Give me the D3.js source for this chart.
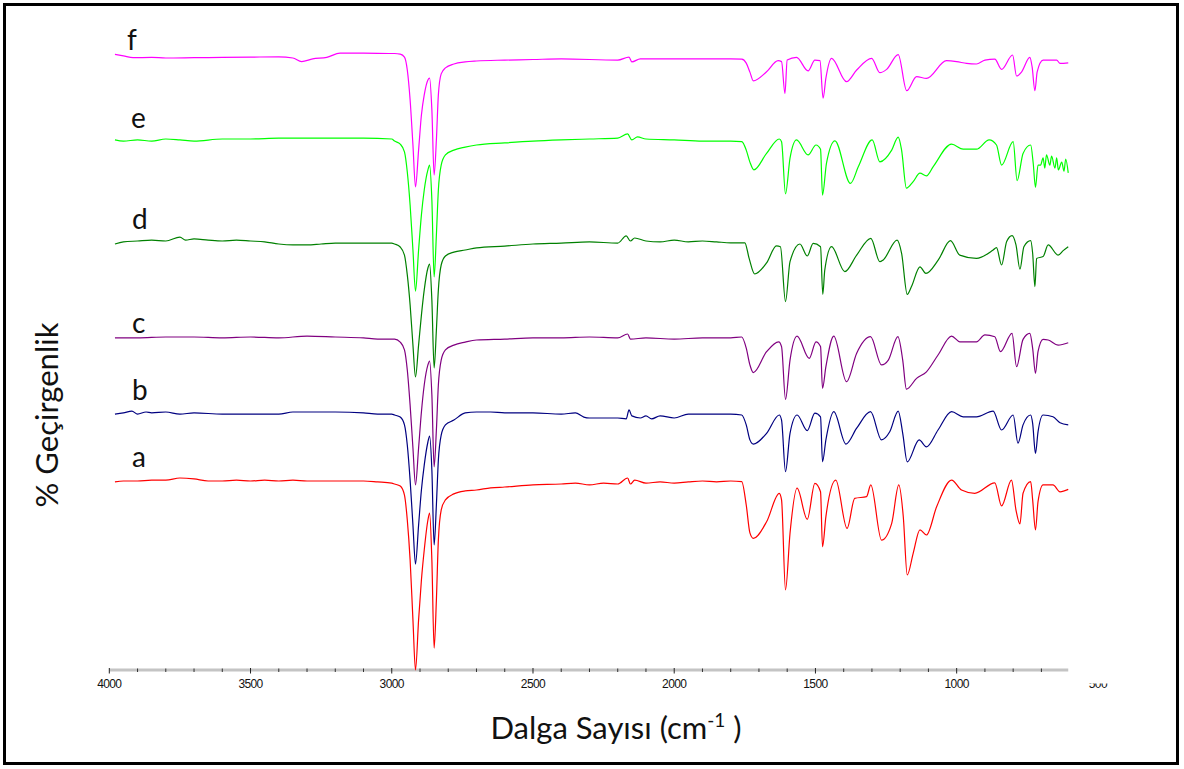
<!DOCTYPE html>
<html><head><meta charset="utf-8">
<script src="https://cdn.jsdelivr.net/npm/d3@7"></script>
<style>body{margin:0;background:#fff}</style>
</head><body><svg id="chart" width="1184" height="769"></svg>
<script>
// ---------- DATA ----------
const seriesLabels = ["a","b","c","d","e","f"];
const seriesOffsets = [0, 23, 48, 80, 114, 142];   // vertical stacking offset
const seriesColors = ["#ff0000","#000080","#800080","#008000","#00ff00","#ff00ff"];
const majorTicks = [4000,3500,3000,2500,2000,1500,1000,500];
const minorTicks = [3900,3800,3700,3600,3400,3300,3200,3100,2900,2800,2700,2600,2400,2300,2200,2100,1900,1800,1700,1600,1400,1300,1200,1100,900,800,700];
const axisEnd = 605;
const xTitle = "Dalga Sayısı (cm";
const yTitle = "% Geçirgenlik";

// [wavenumber, transmittance]
const specA = [[3980,62.7],[3950,63],[3900,63],[3850,63.3],[3800,63.3],[3750,64],[3700,63.7],[3650,63],[3600,63],[3550,63.3],[3500,63],[3450,63.3],[3400,63],[3350,63.3],[3300,63],[3250,63],[3200,63],[3150,63],[3100,63],[3050,62.7],[3000,62.3],
[2990,62],[2970,61.3],[2955,58.3],[2945,50],[2935,36.7],[2925,16.7],[2916,0],[2905,16.7],[2895,30],[2885,40],[2872,50],[2866,52.3],[2858,36.7],[2850,7.3],[2842,23.3],[2835,43.3],[2825,53.3],[2810,56.7],
[2780,58.7],[2740,59.7],[2700,60],[2650,60.7],[2600,61],[2500,61.7],[2400,62],[2350,62.3],[2300,61.7],[2250,62.3],[2200,62],[2165,64],[2155,62],[2140,63.3],[2100,62.3],[2050,62.7],[2000,62.3],[1950,62.7],[1900,63],[1850,62.7],[1800,63],[1761,62.8],
[1745,55],[1732,45.7],[1720,43.9],[1673,49.4],[1628,58.9],[1620,56.7],[1606,26.7],[1590,45.6],[1565,60.6],[1529,50.2],[1502,62.2],[1482,59.4],[1475,41.1],[1463,51.1],[1428,63.3],[1388,47.2],[1361,57.2],[1319,57.8],[1304,61.7],[1266,43.3],[1230,48.9],[1205,61.7],[1189,51.1],[1175,31.7],[1154,38.9],[1130,46.7],[1107,45],[1071,54.4],[1018,63.3],[983,60],[936,58.9],[865,62.4],[841,54.7],[806,63.3],[790,53.3],[776,48.7],[765,58.9],[738,62.8],[731,56.7],[721,46.7],[712,56.1],[694,61.7],[659,61.7],[634,59.4],[605,60.2]];

const specB = [[3980,62.3],[3950,62.7],[3920,63.3],[3900,62.3],[3870,63],[3850,62.7],[3800,63],[3750,62.3],[3700,62.7],[3600,62.3],[3500,62.3],[3400,62.3],[3350,63],[3300,63],[3200,63],[3100,62.7],[3050,62.3],[3000,62.3],
[2990,62],[2970,61.3],[2955,58.7],[2945,52],[2935,40.3],[2925,25.3],[2916,12.3],[2905,25.3],[2895,37],[2885,45.3],[2872,53],[2866,55],[2858,43.7],[2850,18.7],[2842,32],[2835,47],[2825,55.3],[2810,58.7],
[2780,60.3],[2740,62.7],[2700,63],[2650,63],[2600,62.7],[2500,62.7],[2400,62.3],[2350,62.7],[2320,61.3],[2300,61],[2250,61],[2200,61],[2170,60.7],[2160,63.7],[2150,61.7],[2120,61],[2100,61.7],[2080,60.7],[2050,61.7],[2000,61],[1950,62.3],[1900,62.3],[1850,62.3],[1800,62.3],[1761,62],
[1745,58.7],[1732,53.7],[1720,52.3],[1673,55.9],[1628,62],[1620,60.3],[1606,43.1],[1590,55.9],[1565,62],[1529,56.8],[1502,62.6],[1482,61.4],[1475,46.4],[1463,53.7],[1435,63.1],[1392,52.3],[1354,57.6],[1305,63.1],[1266,53.7],[1237,56.4],[1207,63.3],[1191,55.9],[1175,46.4],[1133,53.7],[1107,51.4],[1066,57],[1018,63.1],[977,61.4],[930,61.4],[871,63.3],[841,57],[800,62],[783,52.6],[765,58.7],[738,62],[731,59.2],[721,49.2],[712,56.4],[694,62],[659,61.4],[634,59.4],[605,58.7]];

const specC = [[3980,62.7],[3900,62.7],[3800,63],[3700,63],[3600,62.7],[3500,63],[3400,62.7],[3300,63.3],[3200,63],[3100,62.7],[3050,62.3],[3000,62.3],
[2990,62.3],[2970,61.3],[2955,58.7],[2945,52],[2935,40.3],[2925,26],[2916,13.7],[2905,26],[2895,38],[2885,47],[2872,53.7],[2866,55],[2858,43.7],[2850,19.7],[2842,32],[2835,47],[2825,55.3],[2810,58.7],
[2780,60.3],[2740,61.3],[2700,62],[2600,62.3],[2500,62.7],[2400,62.7],[2300,63],[2200,62.7],[2165,64],[2155,62.3],[2100,62.7],[2000,62.3],[1900,62.7],[1800,62.7],[1761,63],
[1745,59.3],[1732,53.7],[1720,51.1],[1673,58.1],[1630,61.4],[1620,59.8],[1606,42.2],[1590,55.3],[1565,63.3],[1522,55.9],[1498,61.4],[1482,59.8],[1475,45.9],[1463,53.1],[1435,63.3],[1390,48.1],[1354,57.6],[1305,63.1],[1266,53.7],[1242,55.3],[1208,63.1],[1191,55.3],[1178,45.6],[1142,49.2],[1107,51.4],[1066,57],[1018,63.3],[989,61.4],[930,61.4],[900,63.7],[865,63.1],[845,58.1],[804,64.2],[788,53.1],[765,62.2],[741,64.2],[731,59.2],[721,50.9],[712,58.1],[694,62.2],[676,62],[641,60.3],[605,61.1]];

const specD = [[3980,62],[3950,62.7],[3900,63],[3850,63.3],[3800,63],[3750,64.3],[3730,63.3],[3700,63.7],[3650,63.3],[3600,63],[3550,63.3],[3500,63],[3450,62.7],[3400,62],[3350,61.7],[3300,61.7],[3250,62],[3200,62.3],[3100,62.3],[3000,62.3],
[2990,62],[2970,61],[2955,58.3],[2945,51.7],[2935,41.7],[2925,28.3],[2916,17.7],[2905,28.3],[2895,38.3],[2885,46.7],[2872,54],[2866,55.3],[2858,43.3],[2850,20.7],[2842,33.3],[2835,46.7],[2825,55],[2810,58],
[2780,59.3],[2740,60],[2700,60.7],[2600,61.3],[2500,62],[2400,62.3],[2300,62.7],[2200,62.3],[2170,64.7],[2155,63],[2140,64],[2100,63],[2050,62.7],[2000,63.3],[1950,62.7],[1900,63],[1850,62.7],[1800,62.4],[1750,62.4],
[1735,57.3],[1715,52],[1673,55.7],[1638,61.4],[1624,61.1],[1606,42.8],[1590,56.1],[1555,62],[1529,58],[1508,62.2],[1482,61.1],[1474,45.2],[1467,53.3],[1443,61.1],[1396,52.8],[1354,58.3],[1304,63.9],[1272,56.1],[1260,56.7],[1211,63.3],[1195,58.9],[1175,45.2],[1160,47.8],[1130,54.4],[1109,52.2],[1065,56.7],[1022,63.1],[989,58.3],[930,57.2],[871,60],[859,60.8],[841,55],[823,62.8],[804,64.8],[790,61.7],[776,53.6],[762,61.1],[738,63.1],[731,58.9],[723,47.8],[717,57.2],[694,57.8],[676,61.7],[641,58.3],[623,59.8],[605,61.1]];

const specE = [[3980,62.7],[3950,62.3],[3900,62.7],[3850,62.3],[3800,63],[3750,62.7],[3700,62.3],[3600,63],[3500,63],[3400,63.3],[3300,63.3],[3200,63.3],[3100,63.3],[3000,63],
[2990,62.3],[2970,61.3],[2955,58.7],[2945,52],[2935,41],[2925,26],[2916,12.3],[2905,26],[2895,37.7],[2885,46],[2872,52.7],[2866,54.3],[2858,42.7],[2850,17],[2842,31],[2835,46],[2825,54.3],[2810,57.7],
[2780,59.3],[2740,60.3],[2700,61],[2600,61.7],[2500,62.3],[2400,62.7],[2300,63],[2200,63.3],[2165,64.7],[2150,62.7],[2130,63.7],[2100,63],[2000,62.7],[1900,62.3],[1800,62.3],[1761,62.1],
[1745,59.3],[1732,55.3],[1718,52.7],[1673,58.2],[1628,63],[1620,62.1],[1606,44.7],[1590,56.6],[1567,62.7],[1526,57.7],[1498,61],[1482,59.6],[1475,44.3],[1461,54.9],[1431,62.4],[1376,48.2],[1348,53.8],[1299,62.7],[1272,55.4],[1230,59.3],[1207,63.6],[1195,59.3],[1178,46.6],[1154,48.8],[1130,51.6],[1107,50.7],[1083,53.8],[1018,61.3],[977,59.6],[930,59.6],[885,62.7],[859,61],[841,54.3],[800,62.1],[786,49.1],[765,58.2],[738,61],[729,54.9],[721,46.9],[712,54.3],[703,54.3],[694,56.7],[688,53.3],[682,57.7],[670,54.3],[664,57.3],[652,53.3],[646,56.7],[640,52.7],[628,55.3],[620,52.3],[614,56.3],[605,51.7]];

const specF = [[3980,63.2],[3950,62.7],[3916,62.1],[3850,62.2],[3800,62],[3700,62.1],[3600,62.2],[3500,62.3],[3400,62.4],[3350,62],[3319,60.8],[3280,61.7],[3230,62.2],[3183,63.6],[3100,63.6],[3000,63.5],
[2990,63.5],[2970,63.3],[2955,62.3],[2945,58],[2935,48],[2925,33],[2916,19],[2905,31.3],[2895,43],[2885,49.7],[2872,54.7],[2866,55.3],[2858,44.7],[2850,23],[2842,34.7],[2835,49.7],[2825,56.7],[2810,58.7],
[2780,60],[2740,60.7],[2700,61],[2600,61.3],[2500,61.5],[2400,61.7],[2200,61.3],[2160,62.3],[2150,60.7],[2120,61.7],[2000,61.7],[1800,61.7],[1761,61.6],
[1745,60.3],[1732,57.3],[1720,54.4],[1673,57.4],[1632,61.1],[1620,60.8],[1608,50.2],[1600,61.3],[1567,62.2],[1526,57.7],[1502,61.3],[1484,61.1],[1473,48.6],[1463,55.3],[1443,61.9],[1390,54.1],[1354,58],[1301,61.9],[1272,57.1],[1248,58.2],[1207,63.1],[1177,51.1],[1142,55.8],[1107,55.2],[1036,61.1],[1000,60.8],[965,60.2],[930,60],[900,61.3],[865,61.6],[841,58.2],[802,63],[788,56],[770,57.4],[741,62.2],[733,59.1],[723,51.1],[715,57.4],[694,61.3],[646,61.3],[634,60.2],[605,60.4]];

const spectra = [specA, specB, specC, specD, specE, specF];

// ---------- LAYOUT ----------
const svg = d3.select("#chart");
const W = 1184, H = 769;
const x = d3.scaleLinear().domain([4000, 500]).range([109.3, 1097.9]);
const y = d3.scaleLinear().domain([0, 210]).range([670, 40]);
const axisY = 670;

svg.append("rect").attr("width", W).attr("height", H).attr("fill", "#fff");

// frame
svg.append("rect").attr("x", 4.5).attr("y", 4.5).attr("width", 1173).attr("height", 759)
  .attr("fill", "none").attr("stroke", "#000").attr("stroke-width", 3);

// axis line
svg.append("line").attr("x1", x(4000)).attr("x2", x(axisEnd)).attr("y1", axisY).attr("y2", axisY)
  .attr("stroke", "#c4c4c4").attr("stroke-width", 3);

// spectra
const line = d3.line().x(d => x(d[0])).curve(d3.curveMonotoneX);
spectra.forEach((s, i) => {
  svg.append("path")
    .datum(s)
    .attr("fill", "none")
    .attr("stroke", seriesColors[i])
    .attr("stroke-width", 1.2)
    .attr("stroke-linejoin", "round")
    .attr("d", line.y(d => y(d[1] + seriesOffsets[i])));
});

// ticks
const majorIn = majorTicks.filter(t => t >= axisEnd);
svg.append("g").selectAll("line").data(majorIn).join("line")
  .attr("x1", d => x(d)).attr("x2", d => x(d)).attr("y1", axisY - 2).attr("y2", axisY + 3.5)
  .attr("stroke", "#222").attr("stroke-width", 1);
svg.append("g").selectAll("line").data(minorTicks).join("line")
  .attr("x1", d => x(d)).attr("x2", d => x(d)).attr("y1", axisY - 1.5).attr("y2", axisY + 2)
  .attr("stroke", "#333").attr("stroke-width", 1);

// tick labels (last one is clipped as in the reference)
svg.append("clipPath").attr("id", "lblclip").append("rect")
  .attr("x", 0).attr("y", 683.5).attr("width", W).attr("height", 20);
svg.append("g").selectAll("text").data(majorTicks).join("text")
  .attr("x", d => x(d)).attr("y", 688)
  .attr("text-anchor", "middle")
  .attr("font-family", "Liberation Sans, Arial, sans-serif")
  .attr("font-size", 12).attr("letter-spacing", -0.6)
  .attr("fill", "#111")
  .attr("clip-path", d => d < axisEnd ? "url(#lblclip)" : null)
  .text(d => d);

// series letters
const labelPos = [[132,467],[132,400],[132,333],[132,229],[131,128],[127,50]];
svg.append("g").selectAll("text").data(seriesLabels).join("text")
  .attr("x", (d, i) => labelPos[i][0]).attr("y", (d, i) => labelPos[i][1])
  .attr("font-family", "Lato, Open Sans, sans-serif").attr("font-size", 28)
  .attr("fill", "#111").text(d => d);

// x title
const xt = svg.append("text").attr("x", 616).attr("y", 739).attr("text-anchor", "middle")
  .attr("font-family", "Lato, Open Sans, sans-serif").attr("font-size", 31).attr("fill", "#111");
xt.append("tspan").text(xTitle);
xt.append("tspan").attr("dy", -12).attr("font-size", 19).text("-1");
xt.append("tspan").attr("dy", 12).text(" )");

// y title
svg.append("text").attr("transform", "translate(58,415) rotate(-90)")
  .attr("text-anchor", "middle")
  .attr("font-family", "Lato, Open Sans, sans-serif").attr("font-size", 31).attr("fill", "#111")
  .text(yTitle);
</script></body></html>
